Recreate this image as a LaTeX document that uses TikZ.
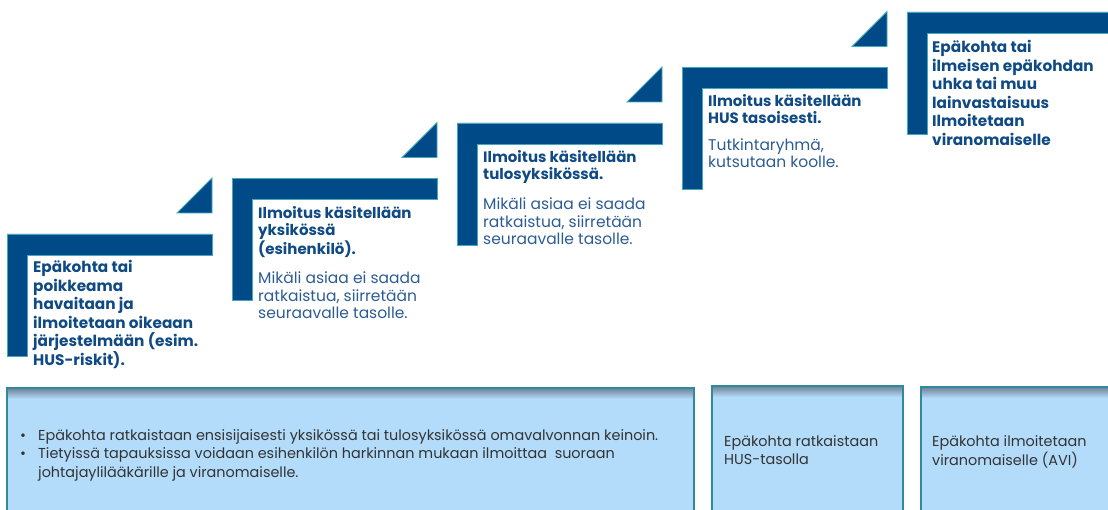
\documentclass[tikz,border=0pt]{standalone}
\usepackage{fontspec}
\setmainfont{Poppins}
\usetikzlibrary{positioning}

\definecolor{navy}{HTML}{004B87}
\definecolor{navyedge}{HTML}{3FA9BE}
\definecolor{ttltext}{HTML}{0F4A84}
\definecolor{bodytext}{HTML}{2C5C94}
\definecolor{boxfill}{HTML}{B3DCFA}
\definecolor{boxedge}{HTML}{2F8A9C}
\definecolor{boxshade}{HTML}{6F8196}
\definecolor{infotext}{HTML}{333333}

\tikzset{
  stepbar/.style={fill=navy, draw=navyedge, line width=0.8pt},
  stepttl/.style={anchor=north west, inner sep=0pt, align=left, text=ttltext,
    font=\fontsize{15}{17.5}\selectfont\bfseries},
  steplong/.style={stepttl, font=\fontsize{15.3}{18.6}\selectfont\bfseries},
  stepbody/.style={anchor=north west, inner sep=0pt, align=left, text=bodytext,
    font=\fontsize{15.5}{17.5}\selectfont},
  infotxt/.style={anchor=west, inner sep=0pt, align=left, text=infotext,
    font=\fontsize{14.4}{18.5}\selectfont}
}

\begin{document}
\begin{tikzpicture}[x=1pt, y=-1pt]
        \clip (0,0) rectangle (1108,510);

        % portaat
        \foreach \i in {0,...,4} {
            \pgfmathsetmacro{\sx}{7+225*\i}
            \pgfmathsetmacro{\sy}{234-55.5*\i}
            \draw[stepbar] (\sx,\sy) -- ++(205,0) -- ++(0,21) -- ++(-185,0) -- ++(0,101) -- ++(-20,0) -- cycle;
        }
        \foreach \i in {0,...,3} {
            \pgfmathsetmacro{\sx}{7+225*\i}
            \pgfmathsetmacro{\sy}{234-55.5*\i}
            \draw[stepbar] (\sx+170,\sy-21) -- ++(35,0) -- ++(0,-35) -- cycle;
        }

        % portaiden tekstit
        \node[steplong] (ttl1) at (33,260) {Epäkohta tai\\poikkeama\\havaitaan ja\\ilmoitetaan oikeaan\\järjestelmään (esim.\\HUS-riskit).};

        \node[stepttl] (ttl2) at (258,206) {Ilmoitus käsitellään\\yksikössä\\(esihenkilö).};
        \node[stepbody, below=14pt of ttl2.south west, anchor=north west] (body2) {Mikäli asiaa ei saada\\ratkaistua, siirretään\\seuraavalle tasolle.};

        \node[stepttl] (ttl3) at (483,150) {Ilmoitus käsitellään\\tulosyksikössä.};
        \node[stepbody, below=14pt of ttl3.south west, anchor=north west] (body3) {Mikäli asiaa ei saada\\ratkaistua, siirretään\\seuraavalle tasolle.};

        \node[stepttl] (ttl4) at (708,94) {Ilmoitus käsitellään\\HUS tasoisesti.};
        \node[stepbody, below=14pt of ttl4.south west, anchor=north west] (body4) {Tutkintaryhmä,\\kutsutaan koolle.};

        \node[steplong] (ttl5) at (932,40) {Epäkohta tai\\ilmeisen epäkohdan\\uhka tai muu\\lainvastaisuus\\Ilmoitetaan\\viranomaiselle};

        % alalaatikot
        \foreach \xa/\xb/\ya in {7/694/388, 712/903/386, 921/1120/387} {
            \fill[boxfill] (\xa,\ya) rectangle (\xb,520);
            \shade[top color=boxshade, bottom color=boxfill] (\xa,\ya) rectangle (\xb,\ya+11);
            \draw[boxedge, line width=1.5pt] (\xa,520) -- (\xa,\ya) -- (\xb,\ya) -- (\xb,520);
        }

        \node[infotxt] (info1) at (20,455) {\makebox[18pt][l]{•}Epäkohta ratkaistaan ensisijaisesti yksikössä tai tulosyksikössä omavalvonnan keinoin.\\\makebox[18pt][l]{•}Tietyissä tapauksissa voidaan esihenkilön harkinnan mukaan ilmoittaa\ \ suoraan\\\hspace*{18pt}johtajaylilääkärille ja viranomaiselle.};
        \node[infotxt] (info2) at (724,450) {Epäkohta ratkaistaan\\HUS-tasolla};
        \node[infotxt] (info3) at (932,452) {Epäkohta ilmoitetaan\\viranomaiselle (AVI)};
    \end{tikzpicture}
\end{document}
